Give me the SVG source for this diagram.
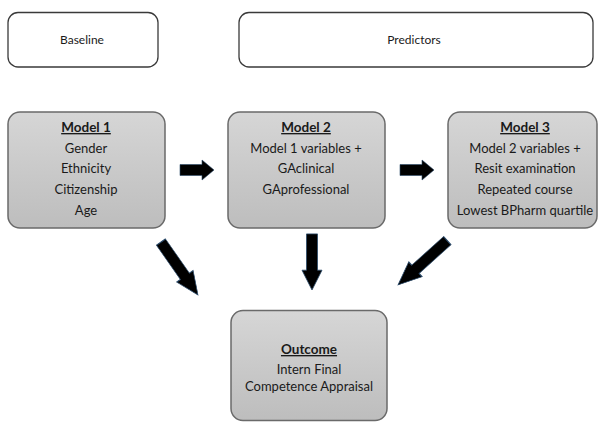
<svg xmlns="http://www.w3.org/2000/svg" width="600" height="423" viewBox="0 0 600 423">
  <defs>
    <linearGradient id="boxFill" x1="0" y1="0" x2="0" y2="1">
      <stop offset="0" stop-color="#d6d6d6"/>
      <stop offset="1" stop-color="#bdbdbd"/>
    </linearGradient>
    <!-- block arrow pointing right, tip at origin -->
    <path id="blockArrow" d="M-34,-5.5 L-12,-5.5 L-12,-10 L0,0 L-12,10 L-12,5.5 L-34,5.5 Z"/>
  </defs>
  <style>
    .label { fill: #ffffff; stroke: #3a3a3a; stroke-width: 1.3; }
    .model { fill: url(#boxFill); stroke: #6a6a6a; stroke-width: 1.5; }
    text { font-family: Lato, "Open Sans", "Liberation Sans", sans-serif; fill: #1a1a1a; text-anchor: middle; }
    .hdr { font-size: 12px; }
    .t { font-size: 13px; }
    .b { font-size: 13.5px; font-weight: bold; text-decoration: underline; }
    .arrow { fill: #000000; stroke: #2a4a6a; stroke-width: 0.6; }
  </style>

  <g id="baseline">
    <rect class="label" x="8" y="12.5" width="150" height="54.5" rx="10"/>
    <text class="hdr" x="82" y="44">Baseline</text>
  </g>

  <g id="predictors">
    <rect class="label" x="239" y="12.5" width="354" height="54.5" rx="10"/>
    <text class="hdr" x="414" y="44">Predictors</text>
  </g>

  <g id="model1">
    <rect class="model" x="8" y="112" width="157" height="116" rx="12"/>
    <text class="b" x="86" y="132">Model 1</text>
    <text class="t" x="86" y="153">Gender</text>
    <text class="t" x="86" y="173">Ethnicity</text>
    <text class="t" x="86" y="194">Citizenship</text>
    <text class="t" x="86" y="215">Age</text>
  </g>

  <g id="model2">
    <rect class="model" x="228" y="112" width="157" height="116" rx="12"/>
    <text class="b" x="306" y="132">Model 2</text>
    <text class="t" x="306" y="153">Model 1 variables +</text>
    <text class="t" x="306" y="173">GAclinical</text>
    <text class="t" x="306" y="194">GAprofessional</text>
  </g>

  <g id="model3">
    <rect class="model" x="448" y="112" width="149" height="116" rx="12"/>
    <text class="b" x="525" y="132">Model 3</text>
    <text class="t" x="525" y="153">Model 2 variables +</text>
    <text class="t" x="525" y="173">Resit examination</text>
    <text class="t" x="525" y="194">Repeated course</text>
    <text class="t" x="525" y="215">Lowest BPharm quartile</text>
  </g>

  <g id="outcome">
    <rect class="model" x="231" y="310.5" width="156" height="110" rx="12"/>
    <text class="b" x="309" y="354">Outcome</text>
    <text class="t" x="309" y="374">Intern Final</text>
    <text class="t" x="309" y="391">Competence Appraisal</text>
  </g>

  <g id="connectors">
    <use href="#blockArrow" class="arrow" transform="translate(214,170)"/>
    <use href="#blockArrow" class="arrow" transform="translate(434,170)"/>
    <use href="#blockArrow" class="arrow" transform="translate(198,295) rotate(55) scale(1.9,1)"/>
    <use href="#blockArrow" class="arrow" transform="translate(312,290) rotate(90) scale(1.65,1)"/>
    <use href="#blockArrow" class="arrow" transform="translate(398,285) rotate(138) scale(1.95,1)"/>
  </g>
</svg>
